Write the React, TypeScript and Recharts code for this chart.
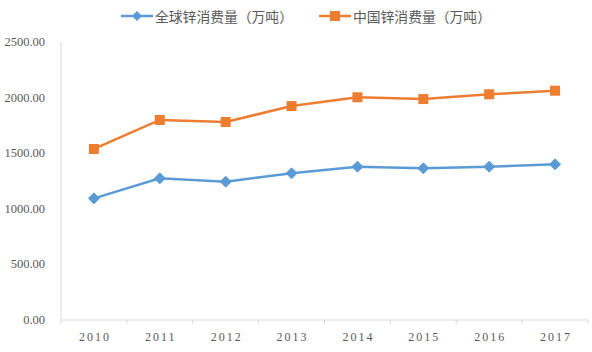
import React from 'react';
import { LineChart, Line, XAxis, YAxis } from 'recharts';

const years = ['2010', '2011', '2012', '2013', '2014', '2015', '2016', '2017'];
const globalUse = [1094, 1274, 1244, 1319, 1379, 1364, 1379, 1400];
const chinaUse = [1538, 1799, 1781, 1924, 2003, 1987, 2030, 2062];
const yTicks = [0, 500, 1000, 1500, 2000, 2500];

const seriesNames = ['全球锌消费量（万吨）', '中国锌消费量（万吨）'];
const BLUE = '#5B9BD5';
const ORANGE = '#ED7D31';

const data = years.map((y, i) => ({ year: y, global: globalUse[i], china: chinaUse[i] }));

const Diamond = (props: any) => {
  const { cx, cy } = props;
  if (cx == null || cy == null) return null;
  const r = 5.5;
  return (
    <path
      d={`M${cx},${cy - r} L${cx + r},${cy} L${cx},${cy + r} L${cx - r},${cy} Z`}
      fill={BLUE}
      stroke={BLUE}
    />
  );
};

const Square = (props: any) => {
  const { cx, cy } = props;
  if (cx == null || cy == null) return null;
  const s = 10;
  return <rect x={cx - s / 2} y={cy - s / 2} width={s} height={s} fill={ORANGE} />;
};

const XTick = (props: any) => {
  const { x, y, payload, index } = props;
  const band = 65.9;
  return (
    <g>
      <line x1={x - band / 2} y1={y - 8} x2={x - band / 2} y2={y - 4} stroke="#d9d9d9" />
      {index === years.length - 1 && (
        <line x1={x + band / 2} y1={y - 8} x2={x + band / 2} y2={y - 4} stroke="#d9d9d9" />
      )}
      <text
        x={x + 1}
        y={y + 13}
        textAnchor="middle"
        fill="#595959"
        fontSize={12}
        fontFamily="Liberation Serif"
        letterSpacing={2}
      >
        {payload.value}
      </text>
    </g>
  );
};

const YTick = (props: any) => {
  const { y, payload } = props;
  return (
    <text
      x={45}
      y={y + 4}
      textAnchor="end"
      fill="#595959"
      fontSize={12.5}
      fontFamily="Liberation Serif"
    >
      {payload.value.toFixed(2)}
    </text>
  );
};

const LegendItem = ({ color, label, square }: { color: string; label: string; square?: boolean }) => (
  <div style={{ display: 'flex', alignItems: 'center' }}>
    <svg width={32} height={12}>
      <line x1={0} y1={6} x2={32} y2={6} stroke={color} strokeWidth={2.5} />
      {square ? (
        <rect x={11} y={1} width={10} height={10} fill={color} />
      ) : (
        <path d="M16,1 L21,6 L16,11 L11,6 Z" fill={color} />
      )}
    </svg>
    <span style={{ marginLeft: 2, color: '#595959', fontSize: 13.8 }}>{label}</span>
  </div>
);

export default function App() {
  return (
    <div
      style={{
        position: 'absolute',
        left: 0,
        top: 0,
        width: 592,
        height: 352,
        background: '#fff',
        fontFamily: '"Noto Sans CJK SC", sans-serif',
      }}
    >
      <div
        style={{
          position: 'absolute',
          top: 7,
          left: 121,
          display: 'flex',
          gap: 26,
          lineHeight: '18px',
        }}
      >
        <LegendItem color={BLUE} label={seriesNames[0]} />
        <LegendItem color={ORANGE} label={seriesNames[1]} square />
      </div>
      <LineChart width={592} height={352} data={data} margin={{ top: 42, right: 4, left: 0, bottom: 2 }}>
        <XAxis
          dataKey="year"
          scale="band"
          stroke="#d9d9d9"
          tickLine={false}
          tick={<XTick />}
          height={30}
        />
        <YAxis
          width={61}
          domain={[0, 2500]}
          ticks={yTicks}
          stroke="#d9d9d9"
          tickLine={false}
          tick={<YTick />}
        />
        <Line
          dataKey="global"
          name={seriesNames[0]}
          stroke={BLUE}
          strokeWidth={2.5}
          dot={<Diamond />}
          activeDot={false}
          isAnimationActive={false}
        />
        <Line
          dataKey="china"
          name={seriesNames[1]}
          stroke={ORANGE}
          strokeWidth={2.5}
          dot={<Square />}
          activeDot={false}
          isAnimationActive={false}
        />
      </LineChart>
    </div>
  );
}
